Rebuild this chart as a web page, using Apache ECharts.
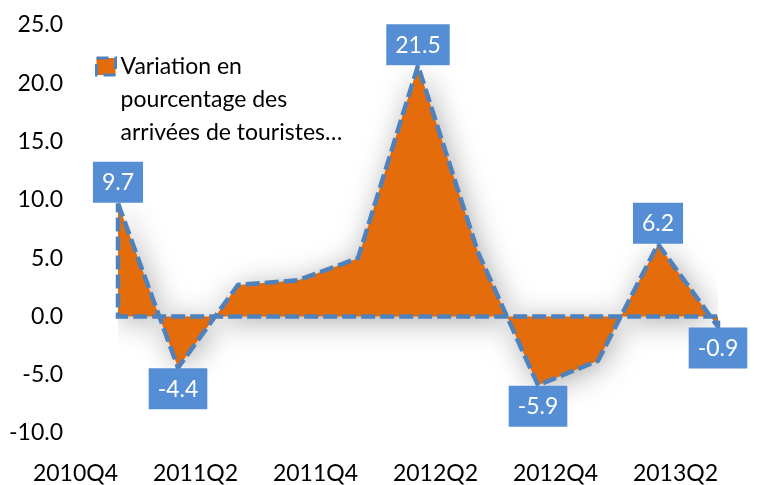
<!DOCTYPE html>
<html>
<head>
<meta charset="utf-8">
<script src="https://cdn.jsdelivr.net/npm/echarts@6/dist/echarts.min.js"></script>
<style>html,body{margin:0;padding:0;background:#fff;}#c{width:757px;height:485px;}</style>
</head>
<body>
<div id="c"></div>
<script>
const categories = ['2010Q4','2011Q1','2011Q2','2011Q3','2011Q4','2012Q1','2012Q2','2012Q3','2012Q4','2013Q1','2013Q2'];
const values = [9.7, -4.4, 2.7, 3.1, 5.0, 21.5, 5.5, -5.9, -3.8, 6.2, -0.9];
const yMin = -10, yMax = 25, yStep = 5;
const seriesName = 'Variation en pourcentage des arrivées de touristes…';
const legendLines = ['Variation en', 'pourcentage des', 'arrivées de touristes…'];
// label placement per labelled point: [position, offset]
const labelPlacement = {
  0: ['top', [9, 1.5]],
  1: ['bottom', [3, -9]],
  5: ['top', [16, 9]],
  7: ['bottom', [31, -4]],
  9: ['top', [2, 0]],
  10: ['bottom', [14, 0]]
};

const FONT = 'Lato';
const ORANGE = '#E46C0A';
const BLUE = '#4F81BD';
const LABEL_BG = '#558ED5';

const last = values.length - 1;
const outlineData = values.map((v, i) => {
  const item = { value: [i, v] };
  const p = labelPlacement[i];
  if (p) {
    item.label = { show: true, position: p[0], distance: 0, offset: p[1] };
  }
  return item;
});
outlineData.push({ value: [last, 0] }, { value: [0, 0] }, { value: [0, values[0]] });

const chart = echarts.init(document.getElementById('c'), null, { renderer: 'canvas' });
chart.setOption({
  animation: false,
  textStyle: { fontFamily: FONT },
  grid: { left: 118, right: 39, top: 25, bottom: 48, containLabel: false },
  legend: {
    data: [{ name: seriesName, icon: 'rect',
      itemStyle: { color: ORANGE, borderColor: BLUE, borderWidth: 3, borderType: 'dashed' } }],
    left: 95, top: -16, padding: 0,
    itemWidth: 19, itemHeight: 17, itemGap: 5,
    formatter: () => '\n\n' + legendLines.join('\n'),
    textStyle: { fontFamily: FONT, fontSize: 23, color: '#000', lineHeight: 33 }
  },
  xAxis: {
    type: 'category', data: categories, boundaryGap: false,
    axisLine: { show: false, onZero: false }, axisTick: { show: false },
    splitLine: { show: false },
    axisLabel: { interval: 1, align: 'right', margin: 29, fontSize: 23, color: '#000', fontFamily: FONT }
  },
  yAxis: {
    type: 'value', min: yMin, max: yMax, interval: yStep,
    axisLine: { show: false }, axisTick: { show: false }, splitLine: { show: false },
    axisLabel: { margin: 55, fontSize: 23, color: '#000', fontFamily: FONT,
      formatter: v => v.toFixed(1) }
  },
  series: [
    {
      name: seriesName, type: 'line', data: values, z: 2,
      symbol: 'none', lineStyle: { width: 0, opacity: 0 },
      itemStyle: { color: ORANGE },
      areaStyle: { color: ORANGE, opacity: 1, shadowBlur: 30, shadowColor: 'rgba(0,0,0,0.35)', shadowOffsetX: 3, shadowOffsetY: 4 },
      silent: true
    },
    {
      name: 'outline', type: 'line', data: outlineData, z: 3,
      symbol: 'circle', symbolSize: 1, showSymbol: true, showAllSymbol: true, silent: true,
      itemStyle: { color: 'rgba(0,0,0,0)', borderWidth: 0 },
      lineStyle: { color: BLUE, width: 4.5, type: [14, 5], cap: 'butt', join: 'miter' },
      label: {
        show: false,
        formatter: p => p.value[1].toFixed(1),
        backgroundColor: LABEL_BG, color: '#fff', fontFamily: FONT, fontSize: 23,
        lineHeight: 28, padding: [7, 9, 6, 9]
      },
      labelLayout: { hideOverlap: false }
    }
  ]
});
</script>
</body>
</html>
